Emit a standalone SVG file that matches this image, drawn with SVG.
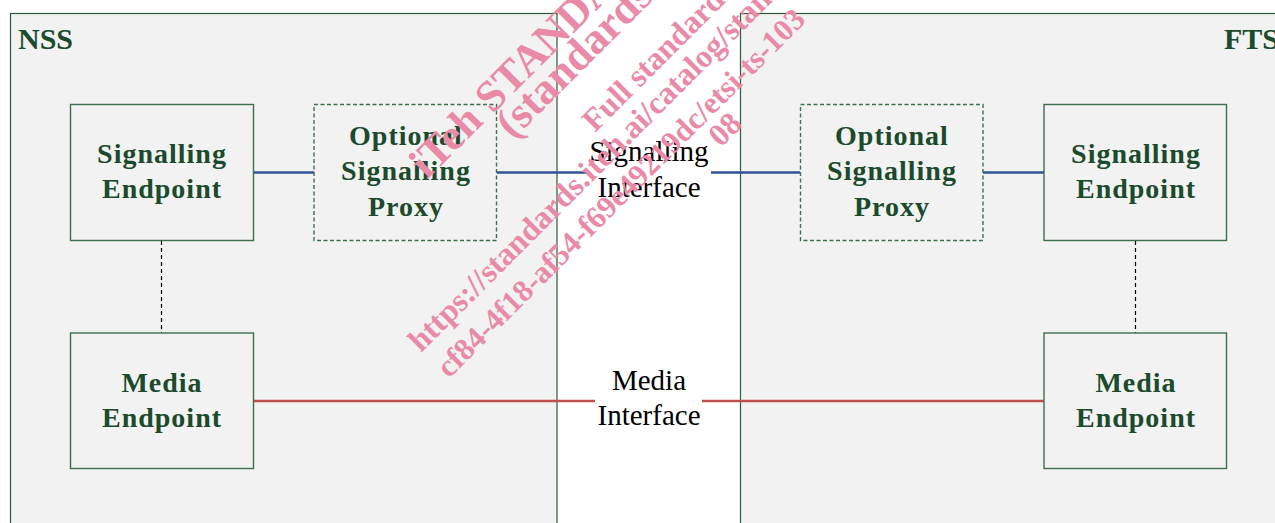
<svg xmlns="http://www.w3.org/2000/svg" width="1275" height="523" viewBox="0 0 1275 523">
<style>
.panel{fill:#f2f2f2;stroke:#2c5a3b;stroke-width:1.2}
.box{fill:#f2f2f2;stroke:#3f6e4e;stroke-width:1.4}
.dashed{stroke-dasharray:4 2.5}
.lbl{font-family:"Liberation Serif",serif;font-weight:bold;font-size:28px;fill:#1b4a2c;text-anchor:middle;letter-spacing:1px}
.title{font-family:"Liberation Serif",serif;font-weight:bold;font-size:30px;fill:#1b4a2c}
.ifc{font-family:"Liberation Serif",serif;font-size:29px;fill:#000;text-anchor:middle}
.sig{stroke:#2f5496;stroke-width:2.5;fill:none}
.med{stroke:#c0504d;stroke-width:2.5;fill:none}
.assoc{stroke:#000;stroke-width:1.2;stroke-dasharray:4 3;fill:none}
.wm{font-family:"Liberation Serif",serif;font-weight:bold;fill:#e98aa6}
</style>
<rect width="1275" height="523" fill="#fff"/>
<g id="NSS">
<rect class="panel" x="10.5" y="13.5" width="546.5" height="530"/>
<text class="title" x="18" y="49">NSS</text>
</g>
<g id="FTS">
<rect class="panel" x="740.5" y="13.5" width="600" height="530"/>
<text class="title" x="1224" y="49">FTS</text>
</g>
<g id="connectors">
<line class="sig" x1="253" y1="172.5" x2="314" y2="172.5"/>
<line class="sig" x1="497" y1="172.5" x2="587" y2="172.5"/>
<line class="sig" x1="711" y1="172.5" x2="800" y2="172.5"/>
<line class="sig" x1="983" y1="172.5" x2="1044" y2="172.5"/>
<line class="med" x1="253" y1="401" x2="595" y2="401"/>
<line class="med" x1="702" y1="401" x2="1044" y2="401"/>
<line class="assoc" x1="161.5" y1="241" x2="161.5" y2="333"/>
<line class="assoc" x1="1135.5" y1="241" x2="1135.5" y2="333"/>
<text class="ifc" x="649" y="161">Signalling</text>
<text class="ifc" x="649" y="197">Interface</text>
<text class="ifc" x="649" y="390">Media</text>
<text class="ifc" x="649" y="425">Interface</text>
</g>
<g id="nss-signalling-endpoint">
<rect class="box" x="70.5" y="104.5" width="183" height="136"/>
<text class="lbl" x="162" y="163">Signalling</text>
<text class="lbl" x="162" y="198">Endpoint</text>
</g>
<g id="nss-optional-proxy">
<rect class="box dashed" x="314" y="104.5" width="182.5" height="136"/>
<text class="lbl" x="406" y="145">Optional</text>
<text class="lbl" x="406" y="180">Signalling</text>
<text class="lbl" x="406" y="216">Proxy</text>
</g>
<g id="nss-media-endpoint">
<rect class="box" x="70.5" y="333" width="183" height="135.5"/>
<text class="lbl" x="162" y="392">Media</text>
<text class="lbl" x="162" y="427">Endpoint</text>
</g>
<g id="fts-optional-proxy">
<rect class="box dashed" x="800.5" y="104.5" width="182.5" height="136"/>
<text class="lbl" x="892" y="145">Optional</text>
<text class="lbl" x="892" y="180">Signalling</text>
<text class="lbl" x="892" y="216">Proxy</text>
</g>
<g id="fts-signalling-endpoint">
<rect class="box" x="1044" y="104.5" width="182.5" height="136"/>
<text class="lbl" x="1136" y="163">Signalling</text>
<text class="lbl" x="1136" y="198">Endpoint</text>
</g>
<g id="fts-media-endpoint">
<rect class="box" x="1044" y="333" width="182.5" height="135.5"/>
<text class="lbl" x="1136" y="392">Media</text>
<text class="lbl" x="1136" y="427">Endpoint</text>
</g>
<g id="watermark">
<text class="wm" font-size="44" transform="translate(427,180) rotate(-45)">iTeh STANDARD</text>
<text class="wm" font-size="44" transform="translate(513,140) rotate(-45)">(standards</text>
<text class="wm" font-size="32" transform="translate(595,133) rotate(-45)">Full standards</text>
<text class="wm" font-size="32" transform="translate(421,353) rotate(-45)">https://standards.iteh.ai/catalog/stand</text>
<text class="wm" font-size="31" transform="translate(449,379) rotate(-45)">cf84-4f18-af54-f69e49219dc/etsi-ts-103</text>
<text class="wm" font-size="32" transform="translate(721,148) rotate(-45)">08</text>
</g>
</svg>
